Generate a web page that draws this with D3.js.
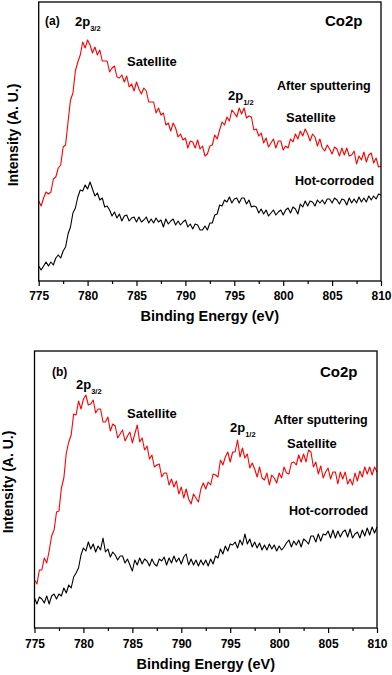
<!DOCTYPE html>
<html><head><meta charset="utf-8">
<script src="https://cdn.jsdelivr.net/npm/d3@7"></script>
<style>
html,body{margin:0;padding:0;background:#fff;}
svg{display:block;}
text{font-family:"Liberation Sans",Arial,sans-serif;font-weight:bold;fill:#000;}
</style></head>
<body>
<script>
// ---------- DATA ----------
// Binding energy grid (eV), 0.25 eV steps from 775 to 810
const energy = d3.range(0, 141).map(i => 775 + i * 0.25);
const xTicks = [775, 780, 785, 790, 795, 800, 805, 810];
const xTickLabels = ["775", "780", "785", "790", "795", "800", "805", "810"];
const xMinorTicks = [777.5, 782.5, 787.5, 792.5, 797.5, 802.5, 807.5];

// Panel (a) intensities (arbitrary units)
const sputterA = [80,75,83,89,87,89,102,104,113,116,134,136,
159,181,188,210,219,226,239,233,241,236,228,234,
226,231,220,220,220,209,213,215,204,203,206,199,
205,194,197,190,199,192,187,193,190,179,179,179,
168,173,166,168,156,158,150,158,153,144,147,141,
143,133,140,139,133,141,132,135,125,127,135,136,
146,142,151,159,156,164,160,171,168,164,173,167,
173,163,165,164,151,152,145,148,138,143,134,138,
142,133,140,140,131,135,133,142,139,147,142,150,
145,152,147,140,147,144,135,142,133,130,136,132,
127,134,132,125,133,126,133,125,126,130,117,125,
121,129,119,126,128,118,123,114,115];
const hotA = [15,11,15,19,15,19,16,23,26,23,30,34,
47,54,68,73,84,91,90,96,92,99,92,85,
88,81,83,74,75,71,65,69,63,67,60,65,
66,60,63,64,59,64,59,61,64,58,62,58,
63,59,61,54,62,57,60,62,56,60,56,59,
61,54,57,52,57,56,51,51,55,51,58,58,
66,67,76,75,81,79,84,78,82,83,78,83,
83,77,81,74,75,74,68,72,67,71,65,68,
71,66,69,71,66,71,73,68,74,72,67,77,
74,80,75,80,79,75,81,78,81,77,82,82,
78,83,81,77,82,81,76,83,78,82,78,84,
79,83,79,85,81,85,82,87,86];

// Panel (b) intensities (arbitrary units)
const sputterB = [48,44,58,58,70,65,77,92,98,116,117,140,
150,175,186,193,214,213,227,219,229,233,223,224,
228,215,219,219,206,206,211,197,204,202,190,194,
198,187,192,196,185,194,203,186,190,178,182,169,
173,161,163,164,151,155,155,143,149,141,147,134,
141,130,139,129,124,134,130,126,139,145,139,146,
143,154,153,151,168,163,171,176,166,176,176,188,
171,180,170,174,160,165,159,151,161,150,148,155,
143,153,150,145,155,150,161,155,154,165,166,163,
173,166,174,166,178,176,161,166,154,162,150,156,
160,149,156,156,144,156,149,156,144,149,143,155,
147,157,151,161,154,161,153,161,156];
const hotB = [30,24,31,29,25,32,24,32,34,29,34,32,
40,35,43,40,51,55,60,73,80,77,86,79,
84,76,82,78,90,76,79,71,76,73,68,72,
72,65,69,63,57,68,63,70,64,69,67,62,
69,64,62,69,67,71,63,70,65,72,66,70,
64,71,74,63,69,63,68,62,68,63,68,62,
69,64,72,70,79,74,82,77,84,83,86,80,
88,83,94,84,89,81,86,80,85,78,83,78,
84,79,83,77,82,78,81,85,88,81,87,83,
88,81,89,87,84,92,92,86,94,87,94,93,
97,90,98,90,97,91,96,98,91,99,90,94,
96,90,98,92,100,93,101,95,101];

const xTitle = "Binding Energy (eV)";
const yTitle = "Intensity (A. U.)";

// ---------- DRAW ----------
const W = 392, H = 675;
const svg = d3.select("body").append("svg").attr("width", W).attr("height", H);

const panels = [
  { tag: "(a)", box: {l: 38.7, r: 381, t: 2, b: 281}, yMax: 279,
    series: [{v: sputterA, c: "#ff0000"}, {v: hotA, c: "#000000"}],
    tagPos: [45, 25], p32: [75, 26], co: [325, 26], sat1: [127, 66], after: [277, 90],
    p12: [228, 100], sat2: [286, 122], hot: [295, 185],
    tickY: 300, titleY: 321, ylab: [18, 135] },
  { tag: "(b)", box: {l: 34.5, r: 377, t: 351, b: 628}, yMax: 277,
    series: [{v: sputterB, c: "#ff0000"}, {v: hotB, c: "#000000"}],
    tagPos: [52, 376], p32: [76, 389], co: [320, 377], sat1: [127, 418], after: [274, 424],
    p12: [230, 432], sat2: [287, 448], hot: [289, 515],
    tickY: 648, titleY: 669, ylab: [13, 482] }
];

panels.forEach(p => {
  const g = svg.append("g");
  const x = d3.scaleLinear().domain([775, 810]).range([p.box.l, p.box.r]);
  const y = d3.scaleLinear().domain([0, p.yMax]).range([p.box.b, p.box.t]);

  // curves
  p.series.forEach(s => {
    const line = d3.line().x((d, i) => x(energy[i])).y(d => y(d));
    g.append("path").datum(s.v).attr("d", line)
      .attr("fill", "none").attr("stroke", s.c).attr("stroke-width", 1.1)
      .attr("stroke-linejoin", "round");
  });

  // frame
  g.append("rect").attr("x", p.box.l).attr("y", p.box.t)
    .attr("width", p.box.r - p.box.l).attr("height", p.box.b - p.box.t)
    .attr("fill", "none").attr("stroke", "#000").attr("stroke-width", 1.3);

  // major ticks
  const ax = d3.axisBottom(x).tickValues(xTicks).tickSize(5)
    .tickFormat((d, i) => xTickLabels[i]);
  const axG = g.append("g").attr("transform", `translate(0,${p.box.b})`).call(ax);
  axG.select(".domain").remove();
  axG.selectAll(".tick line").attr("stroke", "#000").attr("stroke-width", 1.2);
  axG.selectAll(".tick text").attr("y", p.tickY - p.box.b).attr("dy", 0)
    .style("font-family", '"Liberation Sans", Arial, sans-serif')
    .style("font-weight", "bold").style("font-size", "12px").attr("fill", "#000");
  // minor ticks
  const axm = d3.axisBottom(x).tickValues(xMinorTicks).tickSize(3).tickFormat("");
  const axmG = g.append("g").attr("transform", `translate(0,${p.box.b})`).call(axm);
  axmG.select(".domain").remove();
  axmG.selectAll(".tick line").attr("stroke", "#000").attr("stroke-width", 1.2);

  // titles
  g.append("text").attr("x", (p.box.l + p.box.r) / 2).attr("y", p.titleY)
    .attr("text-anchor", "middle").style("font-size", "14.5px").text(xTitle);
  g.append("text").attr("transform", `translate(${p.ylab[0]},${p.ylab[1]}) rotate(-90)`)
    .attr("text-anchor", "middle").style("font-size", "14px").text(yTitle);

  // annotations
  const t = (pos, txt, fs) => g.append("text").attr("x", pos[0]).attr("y", pos[1])
    .style("font-size", fs + "px").text(txt);
  t(p.tagPos, p.tag, 12);
  t(p.co, "Co2p", 15);
  t(p.sat1, "Satellite", 13);
  t(p.after, "After sputtering", 12.5);
  t(p.sat2, "Satellite", 13);
  t(p.hot, "Hot-corroded", 12.5);
  const sub = (pos, s) => {
    const tx = g.append("text").attr("x", pos[0]).attr("y", pos[1]).style("font-size", "13px");
    tx.append("tspan").text("2p");
    tx.append("tspan").attr("dy", 4.5).style("font-size", "7.5px").text(s);
  };
  sub(p.p32, "3/2");
  sub(p.p12, "1/2");
});
</script>
</body></html>
